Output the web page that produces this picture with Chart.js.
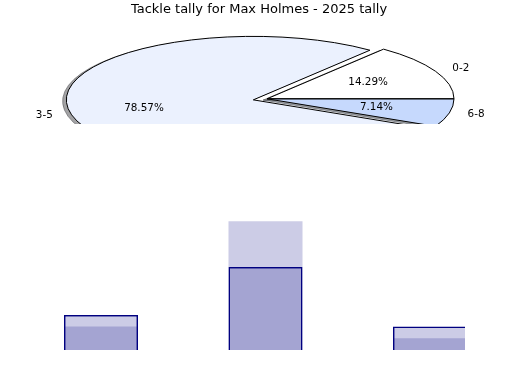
<!DOCTYPE html>
<html>
<head>
<meta charset="UTF-8">
<title>Tackle tally for Max Holmes</title>
<script src="https://cdn.jsdelivr.net/npm/chart.js@4.4.1/dist/chart.umd.min.js"></script>
<style>
  body { margin: 0; background: #fff; }
  #fig { position: relative; width: 520px; height: 390px; }
  /* the original figure cuts the pie and the bars off, so the boxes clip them */
  #pieBox { position: absolute; left: 0; top: 0; width: 520px; height: 124px; overflow: hidden; }
  #barBox { position: absolute; left: 0; top: 124px; width: 465px; height: 266px; overflow: hidden; }
</style>
</head>
<body>
<div id="fig">
  <div id="pieBox"><canvas id="pie" width="520" height="200" style="width:520px;height:200px"></canvas></div>
  <div id="barBox"><canvas id="bar" width="520" height="266" style="width:520px;height:266px"></canvas></div>
</div>

<script>
// tackles per game, grouped
var ranges = ['0-2', '3-5', '6-8'];
// number of games in each range (pie and plain bars)
var games = [2, 11, 1];
// outlined bars
var expected = [3.0, 7.1, 2.0];
var barMax = 12;

var pieColors = ['#ffffff', '#ebf1fe', '#c6d9fd'];
var explode = [0, 0.075, 0];

// pie looks like a flattened ellipse in the original
var pieRadius = 187;
var squash = 63.5 / 187;
var pieShiftX = 8;

Chart.defaults.font.family = 'DejaVu Sans';
Chart.defaults.color = '#000';

// pie goes counter-clockwise from 3 o'clock, chart.js goes clockwise,
// so the slices are handed over in reverse order
var order = [2, 1, 0];

function shadow(hex) {
    var r = parseInt(hex.substr(1, 2), 16) * 0.3;
    var g = parseInt(hex.substr(3, 2), 16) * 0.3;
    var b = parseInt(hex.substr(5, 2), 16) * 0.3;
    return 'rgba(' + r + ',' + g + ',' + b + ',0.5)';
}

// squash the circle around the pie centre, then move by (dx, dy) in circle units
function squashed(ctx, c, dx, dy) {
    ctx.translate(c.x + pieShiftX, c.y);
    ctx.scale(1, squash);
    ctx.translate(-c.x + dx, -c.y + dy);
}

function slicePath(ctx, arc, c, dx, dy) {
    ctx.save();
    squashed(ctx, c, dx, dy);
    ctx.beginPath();
    ctx.moveTo(arc.x, arc.y);
    ctx.arc(arc.x, arc.y, arc.outerRadius, arc.startAngle, arc.endAngle);
    ctx.closePath();
    ctx.restore();   // keeps the path, line width stays unscaled
}

var ellipsePie = {
    id: 'ellipsePie',
    beforeDatasetDraw: function(chart, args) {
        var ctx = chart.ctx;
        var area = chart.chartArea;
        var c = { x: (area.left + area.right) / 2, y: (area.top + area.bottom) / 2 };
        var arcs = args.meta.data;
        var total = games.reduce(function(a, b) { return a + b; }, 0);

        var shifts = arcs.map(function(arc, i) {
            var mid = (arc.startAngle + arc.endAngle) / 2;
            var e = explode[order[i]] * arc.outerRadius;
            return { mid: mid, dx: Math.cos(mid) * e, dy: Math.sin(mid) * e };
        });

        // shadows first
        arcs.forEach(function(arc, i) {
            var s = shifts[i];
            var off = 0.02 * arc.outerRadius;
            slicePath(ctx, arc, c, s.dx - off, s.dy + off);
            ctx.fillStyle = shadow(pieColors[order[i]]);
            ctx.strokeStyle = shadow(pieColors[order[i]]);
            ctx.lineWidth = 1;
            ctx.fill();
            ctx.stroke();
        });

        // slice fills through the arc elements
        arcs.forEach(function(arc, i) {
            ctx.save();
            squashed(ctx, c, shifts[i].dx, shifts[i].dy);
            arc.draw(ctx);
            ctx.restore();
        });

        // edges
        arcs.forEach(function(arc, i) {
            slicePath(ctx, arc, c, shifts[i].dx, shifts[i].dy);
            ctx.strokeStyle = '#000';
            ctx.lineWidth = 1;
            ctx.stroke();
        });

        // labels and percentages
        ctx.save();
        ctx.fillStyle = '#000';
        ctx.font = '10.4px "DejaVu Sans"';
        ctx.textBaseline = 'middle';
        arcs.forEach(function(arc, i) {
            var s = shifts[i];
            var k = order[i];
            var bx = arc.x + s.dx + pieShiftX;
            var by = arc.y + s.dy;
            var cos = Math.cos(s.mid), sin = Math.sin(s.mid);
            var R = arc.outerRadius;

            ctx.textAlign = cos > 0 ? 'left' : 'right';
            ctx.fillText(ranges[k], bx + 1.1 * R * cos, c.y + (by - c.y + 1.1 * R * sin) * squash);

            ctx.textAlign = 'center';
            var pct = (games[k] / total * 100).toFixed(2) + '%';
            ctx.fillText(pct, bx + 0.6 * R * cos, c.y + (by - c.y + 0.6 * R * sin) * squash);
        });
        ctx.restore();
        return false;
    }
};

new Chart(document.getElementById('pie'), {
    type: 'pie',
    data: {
        labels: order.map(function(k) { return ranges[k]; }),
        datasets: [{
            data: order.map(function(k) { return games[k]; }),
            backgroundColor: order.map(function(k) { return pieColors[k]; }),
            borderWidth: 0
        }]
    },
    options: {
        responsive: false,
        animation: false,
        radius: pieRadius,
        rotation: 90,
        layout: { padding: { left: 0, right: 2, top: 0, bottom: 23 } },
        plugins: {
            legend: { display: false },
            tooltip: { enabled: false },
            title: {
                display: true,
                text: 'Tackle tally for Max Holmes - 2025 tally',
                font: { size: 13, weight: 'normal' },
                color: '#000',
                padding: { top: 2, bottom: 3 }
            }
        }
    },
    plugins: [ellipsePie]
});

new Chart(document.getElementById('bar'), {
    type: 'bar',
    data: {
        labels: ranges,
        datasets: [{
            data: expected,
            backgroundColor: 'rgba(0, 0, 128, 0.2)',
            borderColor: 'navy',
            borderWidth: 1.5,
            grouped: false,
            barPercentage: 0.45,
            categoryPercentage: 1
        }, {
            data: games,
            backgroundColor: 'rgba(0, 0, 128, 0.2)',
            borderWidth: 0,
            grouped: false,
            barPercentage: 0.45,
            categoryPercentage: 1
        }]
    },
    options: {
        responsive: false,
        animation: false,
        layout: { padding: { left: 18.75, right: 7.75, top: 85.6, bottom: 40 } },
        scales: {
            x: { display: false },
            y: { display: false, min: 0, max: barMax }
        },
        plugins: {
            legend: { display: false },
            tooltip: { enabled: false }
        }
    }
});
</script>
</body>
</html>
